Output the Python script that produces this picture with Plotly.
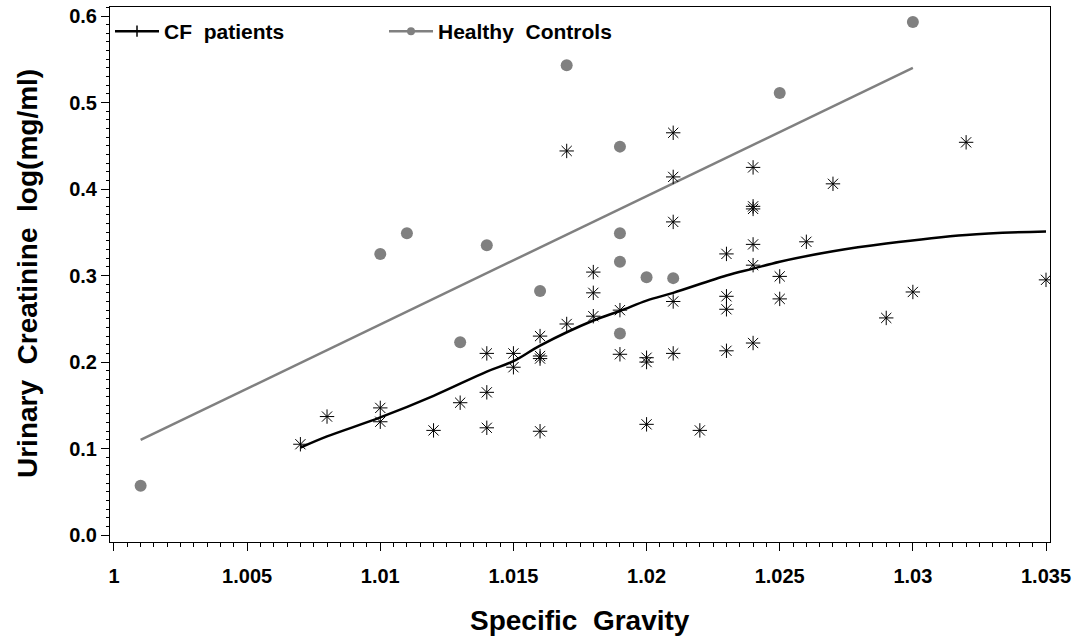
import plotly.graph_objects as go

# CF patients (asterisks)
cf_x = [1.007, 1.008, 1.010, 1.010, 1.012, 1.013, 1.014, 1.014, 1.014, 1.015,
        1.015, 1.016, 1.016, 1.016, 1.016, 1.017, 1.017, 1.018, 1.018, 1.018,
        1.019, 1.019, 1.020, 1.020, 1.020, 1.021, 1.021, 1.021, 1.021, 1.021,
        1.022, 1.023, 1.023, 1.023, 1.023, 1.024, 1.024, 1.024, 1.024, 1.024,
        1.024, 1.025, 1.025, 1.026, 1.027, 1.029, 1.030, 1.032, 1.035]
cf_y = [0.105, 0.137, 0.147, 0.131, 0.121, 0.153, 0.210, 0.165, 0.124, 0.210,
        0.194, 0.230, 0.207, 0.204, 0.120, 0.444, 0.244, 0.304, 0.280, 0.253,
        0.260, 0.209, 0.205, 0.200, 0.128, 0.465, 0.414, 0.362, 0.270, 0.210,
        0.121, 0.325, 0.276, 0.261, 0.213, 0.425, 0.380, 0.377, 0.336, 0.312,
        0.222, 0.299, 0.273, 0.339, 0.406, 0.251, 0.281, 0.454, 0.295]

# CF smooth fit curve
cf_fit_x = [1.007, 1.008, 1.010, 1.012, 1.014, 1.015, 1.016, 1.018, 1.019, 1.020,
            1.021, 1.023, 1.024, 1.025, 1.027, 1.029, 1.032, 1.035]
cf_fit_y = [0.101, 0.114, 0.136, 0.161, 0.189, 0.201, 0.219, 0.248, 0.259, 0.271,
            0.280, 0.300, 0.308, 0.316, 0.328, 0.337, 0.347, 0.351]

# Healthy controls (dots)
hc_x = [1.001, 1.010, 1.011, 1.013, 1.014, 1.016, 1.017, 1.019, 1.019, 1.019,
        1.019, 1.020, 1.021, 1.025, 1.030]
hc_y = [0.057, 0.325, 0.349, 0.223, 0.335, 0.282, 0.543, 0.449, 0.349, 0.316,
        0.233, 0.298, 0.297, 0.511, 0.593]

# Healthy controls fit line
hc_fit_x = [1.001, 1.030]
hc_fit_y = [0.110, 0.540]

x_ticks = [1.000, 1.005, 1.010, 1.015, 1.020, 1.025, 1.030, 1.035]
x_tick_labels = ["1", "1.005", "1.01", "1.015", "1.02", "1.025", "1.03", "1.035"]
y_ticks = [0.0, 0.1, 0.2, 0.3, 0.4, 0.5, 0.6]
y_tick_labels = ["0.0", "0.1", "0.2", "0.3", "0.4", "0.5", "0.6"]

x_title = "Specific\u00a0\u00a0Gravity"
y_title = "Urinary\u00a0\u00a0Creatinine\u00a0\u00a0log(mg/ml)"
legend_names = ["CF\u00a0\u00a0patients", "Healthy\u00a0\u00a0Controls"]

GRAY = "#808080"
FONT = "Liberation Sans"

fig = go.Figure()

fig.add_trace(go.Scatter(
    x=hc_fit_x, y=hc_fit_y, mode="lines",
    line=dict(color=GRAY, width=2.5), showlegend=False, hoverinfo="skip"))
fig.add_trace(go.Scatter(
    x=cf_fit_x, y=cf_fit_y, mode="lines", line_shape="spline",
    line=dict(color="black", width=2.5), showlegend=False, hoverinfo="skip"))
fig.add_trace(go.Scatter(
    x=hc_x, y=hc_y, mode="markers",
    marker=dict(symbol="circle", size=12, color=GRAY), showlegend=False))
fig.add_trace(go.Scatter(
    x=cf_x, y=cf_y, mode="markers",
    marker=dict(symbol="asterisk-open", size=12, color="black",
                line=dict(color="black", width=1)), showlegend=False))

# legend entries
fig.add_trace(go.Scatter(
    x=[None], y=[None], mode="lines+markers", name=legend_names[0],
    line=dict(color="black", width=2.5),
    marker=dict(symbol="line-ns-open", size=8, color="black",
                line=dict(color="black", width=1.5))))
fig.add_trace(go.Scatter(
    x=[None], y=[None], mode="lines+markers", name=legend_names[1],
    line=dict(color=GRAY, width=2.5),
    marker=dict(symbol="circle", size=8, color=GRAY)))

fig.update_layout(
    width=1084, height=642,
    margin=dict(l=110, r=34, t=7, b=100, autoexpand=False),
    paper_bgcolor="white", plot_bgcolor="white",
    font=dict(family=FONT, color="black", size=16),
    legend=dict(orientation="h", x=0.0, y=0.9925, xanchor="left", yanchor="top",
                entrywidth=215, entrywidthmode="pixels",
                font=dict(family=FONT, size=21, color="black", weight="bold"),
                bgcolor="rgba(0,0,0,0)", itemwidth=44),
    showlegend=True,
    annotations=[
        dict(text=x_title, xref="paper", yref="paper", x=0.5, y=(542 - 620) / 535,
             xanchor="center", yanchor="middle", showarrow=False,
             font=dict(family=FONT, size=28, color="black", weight="bold")),
        dict(text=y_title, xref="paper", yref="paper", x=(27 - 110) / 940,
             y=(542 - 274) / 535, xanchor="center", yanchor="middle",
             textangle=-90, showarrow=False,
             font=dict(family=FONT, size=28, color="black", weight="bold")),
    ],
)

fig.update_xaxes(
    range=[0.99985, 1.03515], tickvals=x_ticks, ticktext=x_tick_labels,
    automargin=False,
    showgrid=False, zeroline=False, showline=True, linecolor="black", linewidth=1,
    mirror=True, ticks="outside", ticklen=8, tickcolor="black",
    ticklabelstandoff=8,
    tickfont=dict(family=FONT, size=20, weight="bold"),
    minor=dict(dtick=0.0005, ticks="outside", ticklen=4, tickcolor="black", showgrid=False),
)
fig.update_yaxes(
    range=[-0.008, 0.6104], tickvals=y_ticks, ticktext=y_tick_labels,
    automargin=False,
    showgrid=False, zeroline=False, showline=True, linecolor="black", linewidth=1,
    mirror=True, ticks="outside", ticklen=8, tickcolor="black",
    tickfont=dict(family=FONT, size=20, weight="bold"),
    minor=dict(dtick=0.01, ticks="outside", ticklen=3, tickcolor="black", showgrid=False),
)

fig.write_html("out.html", config={"displayModeBar": False},
               post_script="document.body.style.margin='0';document.body.style.padding='0';")
